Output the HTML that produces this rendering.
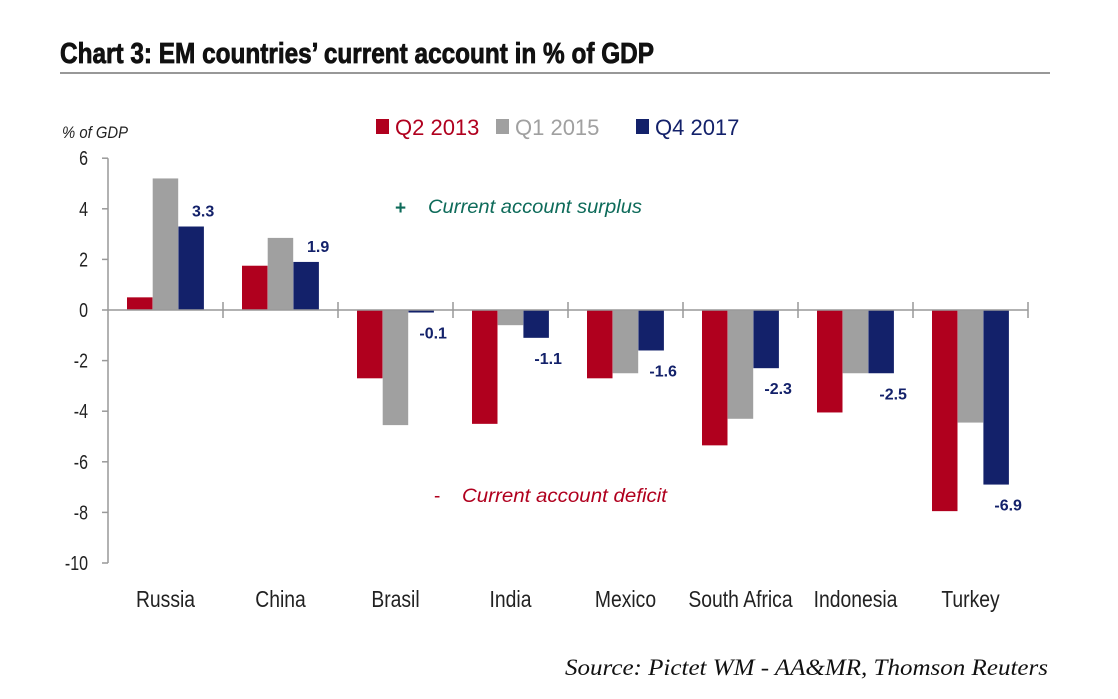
<!DOCTYPE html>
<html><head><meta charset="utf-8"><style>
body{margin:0;background:#fff;width:1118px;height:694px;overflow:hidden;font-family:"Liberation Sans",sans-serif}
</style></head><body>
<svg width="1118" height="694" xmlns="http://www.w3.org/2000/svg">
<text x="60" y="63" font-family="Liberation Sans, sans-serif" font-weight="bold" font-size="29" fill="#111" stroke="#111" stroke-width="0.8" textLength="594" lengthAdjust="spacingAndGlyphs">Chart 3: EM countries’ current account in % of GDP</text>
<line x1="60" y1="73" x2="1050" y2="73" stroke="#777" stroke-width="1.5"/>
<text x="62" y="138" font-size="17" font-style="italic" fill="#222" textLength="66" lengthAdjust="spacingAndGlyphs">% of GDP</text>
<g id="legend"></g>
<text x="395" y="214" font-size="19" font-weight="bold" fill="#0e6b5a">+</text>
<text x="428" y="213" font-size="19" font-style="italic" fill="#0e6b5a" textLength="214" lengthAdjust="spacingAndGlyphs">Current account surplus</text>
<text x="434" y="502" font-size="19" fill="#b0001e">-</text>
<text x="462" y="502" font-size="19" font-style="italic" fill="#b0001e" textLength="205" lengthAdjust="spacingAndGlyphs">Current account deficit</text>
<g id="plot"></g>
<text x="565" y="675" font-family="Liberation Serif, serif" font-style="italic" font-size="23" fill="#111" textLength="483" lengthAdjust="spacingAndGlyphs">Source: Pictet WM - AA&amp;MR, Thomson Reuters</text>
</svg>
<script>
const categories=["Russia","China","Brasil","India","Mexico","South Africa","Indonesia","Turkey"];
const seriesNames=["Q2 2013","Q1 2015","Q4 2017"];
const q2_2013=[0.5,1.75,-2.7,-4.5,-2.7,-5.35,-4.05,-7.95];
const q1_2015=[5.2,2.85,-4.55,-0.6,-2.5,-4.3,-2.5,-4.45];
const q4_2017=[3.3,1.9,-0.1,-1.1,-1.6,-2.3,-2.5,-6.9];
const labels=["3.3","1.9","-0.1","-1.1","-1.6","-2.3","-2.5","-6.9"];
const yTicks=[6,4,2,0,-2,-4,-6,-8,-10];
const colors=["#b0001e","#a0a0a0","#13216a"];
const NS="http://www.w3.org/2000/svg";
const X0=108,CW=115,Y0=310,PX=25.3;
function y(v){return Y0-v*PX;}
function x(i){return X0+i*CW;}
const plot=document.getElementById('plot');
function mk(t,a,p){const e=document.createElementNS(NS,t);for(const k in a)e.setAttribute(k,a[k]);(p||plot).appendChild(e);return e;}
function narrow(e,f){const w=e.getComputedTextLength();e.setAttribute('textLength',(w*f).toFixed(1));e.setAttribute('lengthAdjust','spacingAndGlyphs');}
let ax=mk('line',{x1:X0,y1:y(6),x2:X0,y2:y(-10),stroke:'#999','stroke-width':1.5});


yTicks.forEach(t=>{
  let tk=mk('line',{x1:X0-6,y1:y(t),x2:X0,y2:y(t),stroke:'#999','stroke-width':1.5});
  
  
  let tl=mk('text',{x:X0-20,y:y(t)+7,'text-anchor':'end','font-size':20,fill:'#222'});
  tl.textContent=t;
  
  
  narrow(tl,0.8);
});
const series=[q2_2013,q1_2015,q4_2017];
categories.forEach((c,i)=>{
  series.forEach((s,j)=>{
    const v=s[i];const bx=x(i)+19+j*25.7;
    let r=mk('rect',{x:bx,y:Math.min(y(v),Y0),width:25.5,height:Math.max(Math.abs(y(v)-Y0),1.5),fill:colors[j]});
    
    
  });
  const v=q4_2017[i];const cx=x(i)+19+2*25.7+12.75+12;
  let vl=mk('text',{x:cx,y:v>=0?y(v)-10:y(v)+26,'text-anchor':'middle','font-size':16,'font-weight':'bold',fill:'#13216a'});
  vl.textContent=labels[i];
  
  
  let cl=mk('text',{x:x(i)+CW/2,y:607,'text-anchor':'middle','font-size':23,fill:'#222'});
  cl.textContent=c;
  
  
  narrow(cl,0.84);
});
let zl=mk('line',{x1:X0,y1:Y0,x2:X0+8*CW,y2:Y0,stroke:'#999','stroke-width':1.5});


for(let i=1;i<=8;i++){
  let t=mk('line',{x1:x(i),y1:Y0-8,x2:x(i),y2:Y0+8,stroke:'#999','stroke-width':1.5});
  
  
}
const lg=document.getElementById('legend');
const lgX=[376,496,636];
seriesNames.forEach((n,j)=>{
  let r=mk('rect',{x:lgX[j],y:119,width:13,height:15,fill:colors[j]},lg);
  
  
  let t=mk('text',{x:lgX[j]+19,y:135,'font-size':22,fill:colors[j]},lg);
  t.textContent=n;
  
  
});
</script>
</body></html>
